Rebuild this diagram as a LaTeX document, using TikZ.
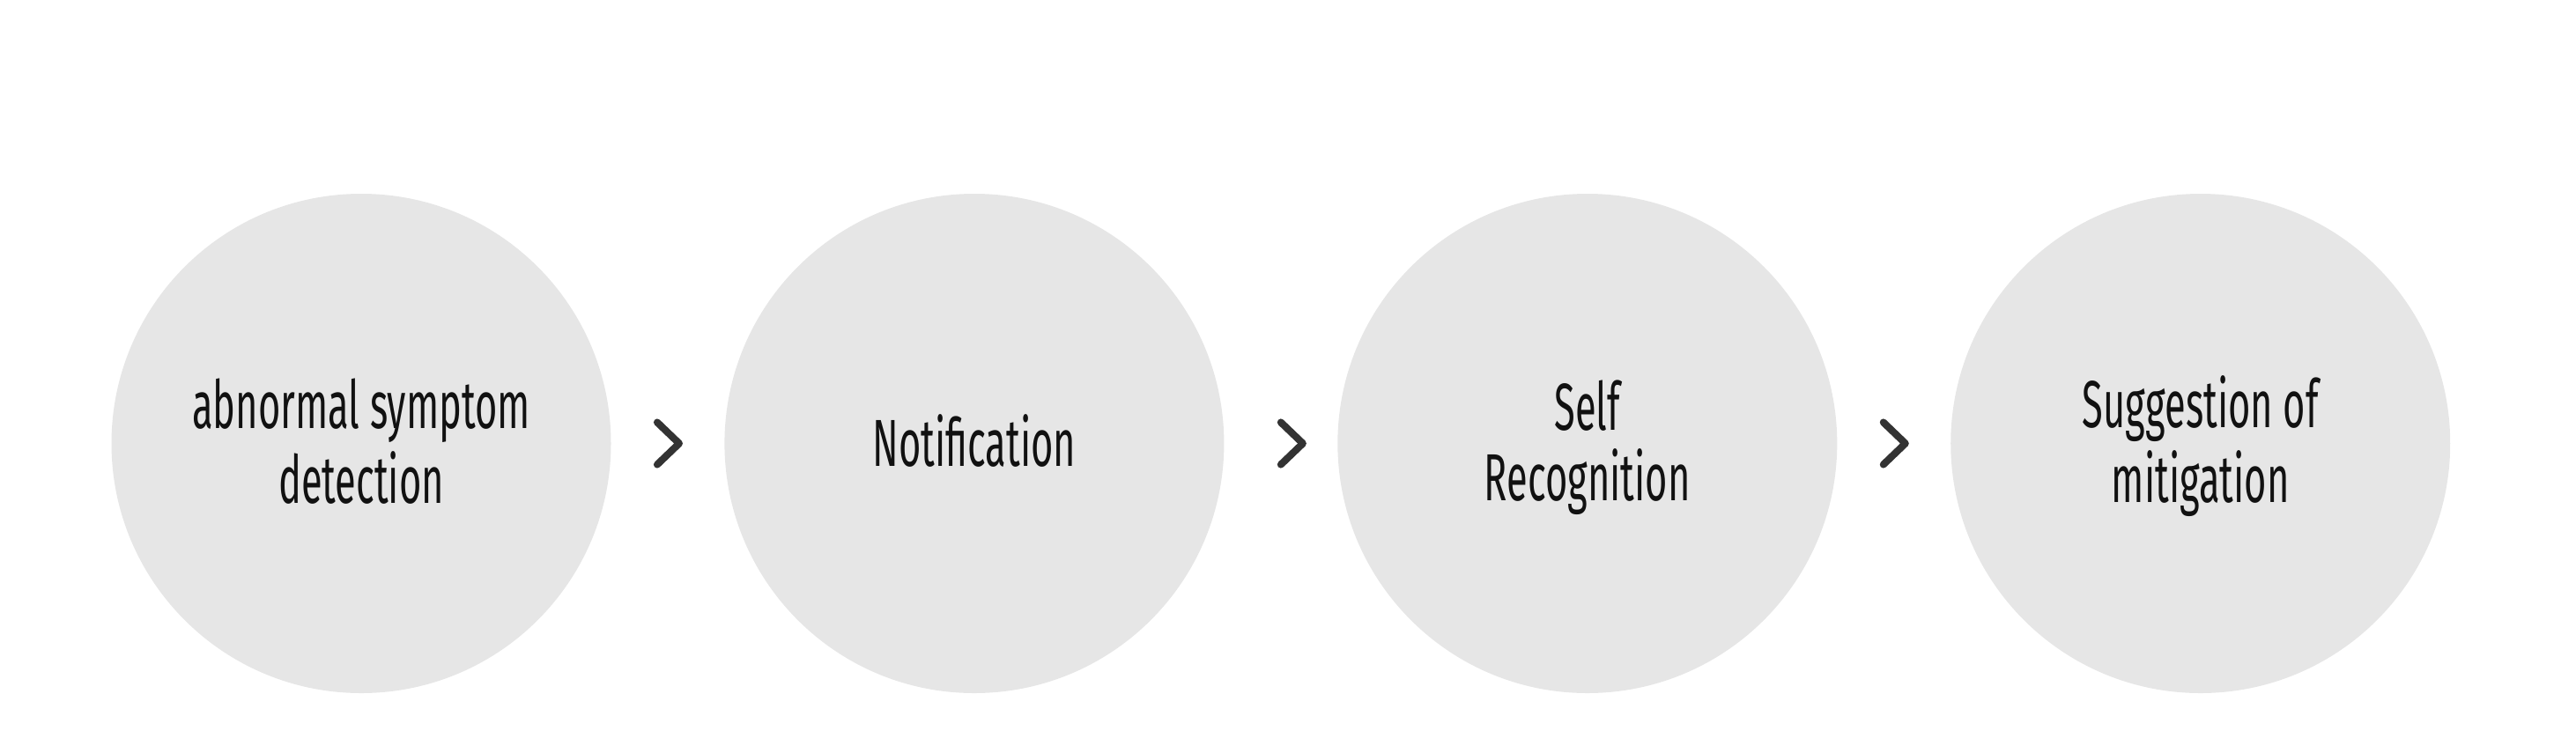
\documentclass[tikz,border=0pt]{standalone}
\usepackage{fontspec}
\newfontfamily\stagefont{Fira Sans}[FakeStretch=0.575]
\newcommand{\stagestrut}{\rule[-4.1pt]{0pt}{22.8pt}}
\definecolor{stagegray}{RGB}{230, 230, 230}
\definecolor{chevgray}{RGB}{51, 51, 51}
\definecolor{textblack}{RGB}{17, 17, 17}
\usetikzlibrary{positioning, calc}

\begin{document}
\begin{tikzpicture}[
  stage/.style={circle, fill=stagegray, minimum size=5.67cm, inner sep=0pt, align=center, text=textblack, font=\stagefont\fontsize{21.5}{22.8}\selectfont},
  chevron/.style={draw=chevgray, line width=2.3pt, line cap=round, line join=round}
]
  \useasboundingbox (0, 0) rectangle (29.24, -8.54);
  \node[stage] (detect) at (4.10, -5.035) {abnormal symptom\stagestrut\\detection\stagestrut};
  \node[stage, right=1.275cm of detect] (notify) {Notification\stagestrut};
  \node[stage, right=1.275cm of notify] (selfrec) {Self\stagestrut\\Recognition\stagestrut};
  \node[stage, right=1.275cm of selfrec] (mitig) {Suggestion of\stagestrut\\mitigation\stagestrut};
  % chevrons between the stages
  \foreach \a/\b/\dx in {detect/notify/0, notify/selfrec/0.12, selfrec/mitig/0} {
    \coordinate (mid) at ($(\a.east)!0.5!(\b.west)+(\dx, 0)$);
    \draw[chevron] ($(mid)+(-0.12, 0.24)$) -- ($(mid)+(0.13, 0)$) -- ($(mid)+(-0.12, -0.24)$);
  }
\end{tikzpicture}
\end{document}
